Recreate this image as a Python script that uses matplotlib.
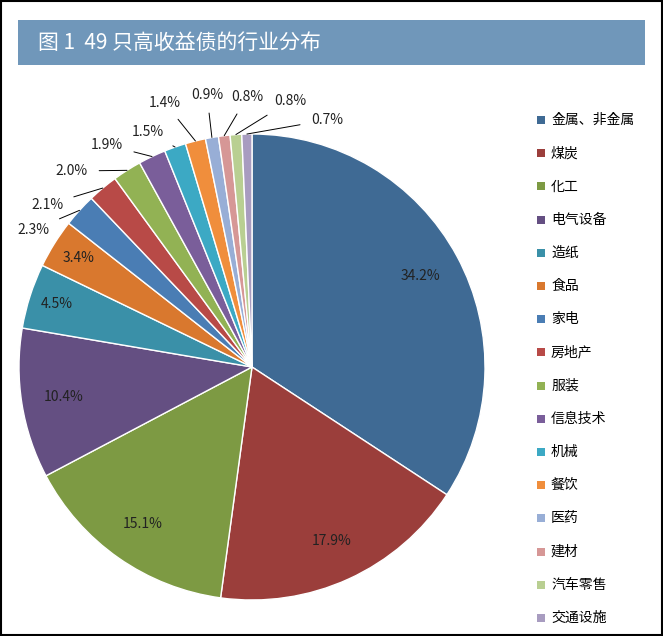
import matplotlib.pyplot as plt
import numpy as np
from matplotlib.patches import Rectangle

plt.rcParams['font.family'] = ['Noto Sans CJK SC', 'Noto Sans CJK JP', 'DejaVu Sans']

industries = ['金属、非金属', '煤炭', '化工', '电气设备', '造纸', '食品', '家电', '房地产',
              '服装', '信息技术', '机械', '餐饮', '医药', '建材', '汽车零售', '交通设施']
shares = [34.2, 17.9, 15.1, 10.4, 4.5, 3.4, 2.3, 2.1, 2.0, 1.9, 1.5, 1.4, 0.9, 0.8, 0.8, 0.7]
colors = ['#3F6A94', '#9B3E3B', '#7D9A43', '#644F82', '#3A90A8', '#D9782E', '#4A7DB4', '#B84A47',
          '#92B254', '#7A5E9A', '#3CA9C4', '#F08E3C', '#98AED6', '#D69796', '#B9CF92', '#A89CC0']

# label positions (figure pixels) for the small outer slices
outer_pos = [(33, 230), (47, 205), (72, 171), (107, 145), (148, 132), (165, 103),
             (207, 95), (247, 97), (290, 101), (327, 120)]

W, H = 663, 636
fig = plt.figure(figsize=(6.63, 6.36), dpi=100)
fig.patches.append(Rectangle((0.002, 0.002), 0.996, 0.996, transform=fig.transFigure,
                             fill=False, edgecolor='black', lw=1.5))
fig.patches.append(Rectangle((18 / W, 1 - 65 / H), 627 / W, 45 / H, transform=fig.transFigure,
                             facecolor='#7097BA', edgecolor='none'))
fig.text(38 / W, 1 - 43 / H, '图 1  49 只高收益债的行业分布', color='white', fontsize=15,
         va='center', ha='left')

ax = fig.add_axes([19 / W, 36 / H, 466 / W, 466 / H])
wedges, _ = ax.pie(shares, colors=colors, startangle=90, counterclock=False,
                   wedgeprops=dict(edgecolor='white', linewidth=1))
ax.set_xlim(-1, 1)
ax.set_ylim(-1, 1)
ax.set_aspect('equal')

for i, (w, v) in enumerate(zip(wedges, shares)):
    ang = np.deg2rad((w.theta1 + w.theta2) / 2)
    x, y = np.cos(ang), np.sin(ang)
    txt = f'{v:.1f}%'
    if i < 6:
        r = 0.82 if i < 4 else 0.88
        ax.text(r * x, r * y, txt, ha='center', va='center', fontsize=10, color='#222222')
    else:
        px, py = outer_pos[i - 6]
        ax.annotate(txt, xy=(x, y), xycoords='data',
                    xytext=(px / W, 1 - py / H), textcoords='figure fraction',
                    ha='center', va='center', fontsize=10, color='#222222',
                    arrowprops=dict(arrowstyle='-', color='black', lw=0.7, shrinkA=6, shrinkB=0))

for i, (name, c) in enumerate(zip(industries, colors)):
    yy = 1 - (120 + i * 33.2) / H
    fig.patches.append(Rectangle((537 / W, yy - 4 / H), 8 / W, 8 / H,
                                 transform=fig.transFigure, facecolor=c, edgecolor='none'))
    fig.text(551 / W, yy, name, fontsize=10, va='center', ha='left')

fig.savefig('out.png', dpi=100)
